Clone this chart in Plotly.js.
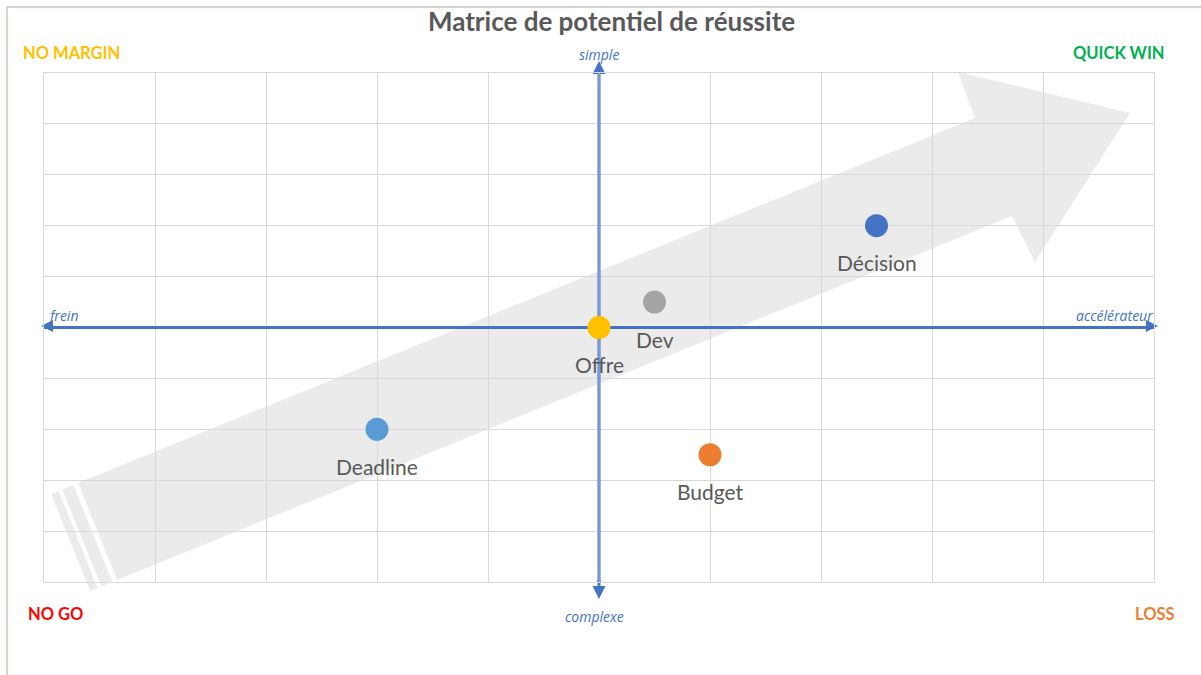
<!DOCTYPE html>
<html>
<head>
<meta charset="utf-8">
<script src="https://cdn.plot.ly/plotly-3.0.1.min.js"></script>
<style>html,body{margin:0;padding:0;background:#fff;}#chart{width:1201px;height:675px;}</style>
</head>
<body>
<div id="chart"></div>
<script>
// Data
const names = ["Décision", "Dev", "Offre", "Deadline", "Budget"];
const xVals = [2.5, 0.5, 0, -2, 1];
const yVals = [2, 0.5, 0, -2, -2.5];
const colors = ["#4472c4", "#a5a5a5", "#ffc000", "#5b9bd5", "#ed7d31"];
const axisLabels = {top: "simple", bottom: "complexe", left: "frein", right: "accélérateur"};
const quadrants = ["NO MARGIN", "QUICK WIN", "NO GO", "LOSS"];
const quadColors = ["#ffc000", "#00b050", "#ff0000", "#ed7d31"];

const W = 1201, H = 675;
const L = 44, R = 1154, T = 73, B = 582;
const px = x => (x - L) / (R - L);
const py = y => (B - y) / (B - T);
function pathOf(pts) {
  return 'M ' + pts.map(p => px(p[0]).toFixed(5) + ',' + py(p[1]).toFixed(5)).join(' L ') + ' Z';
}
// Decorative background arrow (pixels -> paper)
const body = [[117,580],[1012,216],[1035,262],[1130,113],[958,72],[975,118],[78,483]];
const u = [0.926, -0.377];
function strip(a, b) {
  const P0 = [78,483], P1 = [117,580];
  return [[P0[0]-a*u[0], P0[1]-a*u[1]], [P0[0]-b*u[0], P0[1]-b*u[1]],
          [P1[0]-b*u[0], P1[1]-b*u[1]], [P1[0]-a*u[0], P1[1]-a*u[1]]];
}
const arrowGray = "#ebebeb";
const blue = "#4472c4";
const cx = 599, cy = 326; // pixel position of the data origin
const shapes = [
  {type:'path', xref:'paper', yref:'paper', path: pathOf(body), fillcolor: arrowGray, line:{width:0}, layer:'below'},
  {type:'path', xref:'paper', yref:'paper', path: pathOf(strip(5,17)), fillcolor: arrowGray, line:{width:0}, layer:'below'},
  {type:'path', xref:'paper', yref:'paper', path: pathOf(strip(21,29)), fillcolor: arrowGray, line:{width:0}, layer:'below'},
  // outer frame
  {type:'line', xref:'paper', yref:'paper', x0: px(7), x1: px(1201), y0: py(7), y1: py(7), line:{color:'#cfc6bd', width:1.5}},
  {type:'line', xref:'paper', yref:'paper', x0: px(7), x1: px(7), y0: py(7), y1: py(675), line:{color:'#cfc6bd', width:1.5}},
  // axis lines (above grid, below markers)
  {type:'line', xref:'x', yref:'y', x0:-5, x1:5, y0:0, y1:0, line:{color: blue, width:3}, layer:'between'},
  {type:'line', xref:'x', yref:'y', x0:0, x1:0, y0:-5, y1:5, line:{color: blue, width:3}, layer:'between'},
  {type:'line', xref:'x', yref:'y', x0:0, x1:0, y0:-5, y1:5, line:{color:'#a9c0ea', width:1}, layer:'between'},
  // arrowheads (paper, drawn outside the plot area)
  {type:'path', xref:'paper', yref:'paper', layer:'below', fillcolor: blue, line:{width:0},
    path: pathOf([[41,cy],[53,cy-6],[53,cy+6]])},
  {type:'path', xref:'paper', yref:'paper', layer:'below', fillcolor: blue, line:{width:0},
    path: pathOf([[1158,cy],[1146,cy-6],[1146,cy+6]])},
  {type:'path', xref:'paper', yref:'paper', layer:'below', fillcolor: blue, line:{width:0},
    path: pathOf([[cx,61],[cx+6.5,74],[cx-6.5,74]])},
  {type:'path', xref:'paper', yref:'paper', layer:'below', fillcolor: blue, line:{width:0},
    path: pathOf([[cx-1.5,580],[cx+1.5,580],[cx+1.5,586],[cx+6.5,586],[cx,599],[cx-6.5,586],[cx-1.5,586]])}
];

const annotations = [];
const axFont = {family:'"Open Sans", sans-serif', size:14, color: blue};
annotations.push({xref:'paper', yref:'paper', x: px(599), y: py(55), text:'<i>'+axisLabels.top+'</i>', showarrow:false, font: axFont, xanchor:'center', yanchor:'middle'});
annotations.push({xref:'paper', yref:'paper', x: px(594), y: py(616), text:'<i>'+axisLabels.bottom+'</i>', showarrow:false, font: axFont, xanchor:'center', yanchor:'middle'});
annotations.push({xref:'paper', yref:'paper', x: px(46), y: py(315), text:'<i>'+axisLabels.left+'</i>', showarrow:false, font: axFont, xanchor:'left', yanchor:'middle'});
annotations.push({xref:'paper', yref:'paper', x: px(1155), y: py(315), text:'<i>'+axisLabels.right+'</i>', showarrow:false, font: axFont, xanchor:'right', yanchor:'middle'});
// quadrant labels
const qPos = [[21,53,'left'],[1167,53,'right'],[26,614,'left'],[1177,614,'right']];
quadrants.forEach((q,i) => {
  annotations.push({xref:'paper', yref:'paper', x: px(qPos[i][0]), y: py(qPos[i][1]), text:'<b>'+q+'</b>', showarrow:false,
    font:{family:'Lato, "Open Sans", sans-serif', size:16.5, color: quadColors[i]}, xanchor: qPos[i][2], yanchor:'middle'});
});
// point labels
names.forEach((n,i) => {
  annotations.push({x: xVals[i], y: yVals[i], xref:'x', yref:'y', text: n, showarrow:false, yshift:-37,
    font:{family:'Lato, "Open Sans", sans-serif', size:21, color:'#595959'}, xanchor:'center', yanchor:'middle'});
});

const trace = {
  type:'scatter', mode:'markers', x: xVals, y: yVals, text: names,
  marker:{size:23, color: colors, line:{width:0}}, hoverinfo:'text', cliponaxis:false
};

const axisCommon = {range:[-5,5], dtick:1, tick0:0, showgrid:true, gridcolor:'#d9d9d9', gridwidth:1,
  zeroline:false, showticklabels:false, ticks:'', showline:true, mirror:true, linecolor:'#d9d9d9', linewidth:1, fixedrange:true};

const layout = {
  width: W, height: H,
  margin:{l:L, r:W-R, t:T, b:H-B, pad:0},
  paper_bgcolor:'#ffffff', plot_bgcolor:'rgba(0,0,0,0)',
  showlegend:false,
  title:{text:'<b>Matrice de potentiel de réussite</b>', font:{family:'Lato, "Open Sans", sans-serif', size:26, color:'#595959'},
    xref:'paper', x: px(611.5), xanchor:'center', yref:'container', y: 1 - 22/H, yanchor:'middle'},
  xaxis: axisCommon,
  yaxis: Object.assign({}, axisCommon),
  shapes: shapes,
  annotations: annotations
};

Plotly.newPlot('chart', [trace], layout, {displayModeBar:false, staticPlot:true});
</script>
</body>
</html>
